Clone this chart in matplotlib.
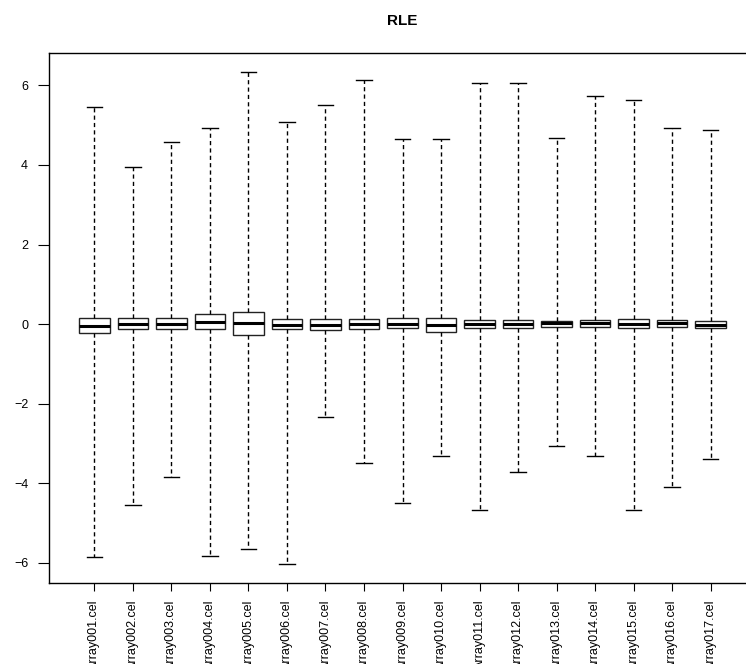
import matplotlib
matplotlib.use("Agg")
import matplotlib.pyplot as plt

plt.rcParams['font.family'] = ['Liberation Sans', 'DejaVu Sans']
plt.rcParams['lines.scale_dashes'] = False

labels = ["Array%03d.cel" % i for i in range(1, 18)]
q1 = [-0.21, -0.13, -0.13, -0.13, -0.26, -0.13, -0.15, -0.13, -0.10,
      -0.19, -0.10, -0.10, -0.07, -0.07, -0.10, -0.07, -0.10]
med = [-0.05, 0.01, 0.01, 0.06, 0.04, -0.01, -0.03, 0.01, 0.01,
       -0.01, 0.01, 0.01, 0.02, 0.02, 0.01, 0.02, -0.01]
q3 = [0.16, 0.16, 0.16, 0.25, 0.30, 0.13, 0.13, 0.13, 0.16,
      0.16, 0.11, 0.11, 0.08, 0.11, 0.13, 0.11, 0.08]
whis_hi = [5.45, 3.96, 4.57, 4.94, 6.33, 5.08, 5.50, 6.13, 4.64,
           4.64, 6.05, 6.05, 4.67, 5.73, 5.62, 4.94, 4.88]
whis_lo = [-5.86, -4.54, -3.83, -5.82, -5.66, -6.02, -2.32, -3.48, -4.49,
           -3.32, -4.68, -3.71, -3.06, -3.32, -4.68, -4.09, -3.38]
yticks = [-6, -4, -2, 0, 2, 4, 6]
title = "RLE"

W, H = 746, 664
fig = plt.figure(figsize=(W / 100, H / 100), dpi=100)
left, right, top, bottom = 49, 756, 52.7, 583.3
ax = fig.add_axes([left / W, 1 - bottom / H, (right - left) / W, (bottom - top) / H])

stats = []
for i in range(len(labels)):
    stats.append(dict(med=med[i], q1=q1[i], q3=q3[i], whislo=whis_lo[i],
                      whishi=whis_hi[i], fliers=[], label=labels[i]))

pos = list(range(1, len(labels) + 1))
ax.bxp(stats, positions=pos, widths=0.8, capwidths=0.4, showfliers=False,
       patch_artist=True,
       boxprops=dict(facecolor='white', edgecolor='#222222', linewidth=1.0),
       medianprops=dict(color='black', linewidth=2.2, solid_capstyle='butt'),
       whiskerprops=dict(color='black', linewidth=1.0, linestyle=(0, (3, 2.3))),
       capprops=dict(color='black', linewidth=1.0))

ax.set_xlim(-0.18, 18.18)
ax.set_ylim(-6.51, 6.82)
ax.set_yticks(yticks)
ax.set_yticklabels([("\u2212%d" % -v) if v < 0 else str(v) for v in yticks])
ax.set_xticks(pos)
ax.set_xticklabels(labels, rotation=90, va='top', ha='center')
ax.tick_params(axis='both', direction='out', width=0.8, labelsize=9, color='black')
ax.tick_params(axis='y', length=8, pad=7)
ax.tick_params(axis='x', length=6, pad=5.5)
for s in ax.spines.values():
    s.set_linewidth(1.0)
    s.set_color('black')

fig.text((left + right) / 2 / W, 1 - 21 / H, title, ha='center', va='center',
         fontsize=11, fontweight='bold')

fig.savefig("out.png", dpi=100)
